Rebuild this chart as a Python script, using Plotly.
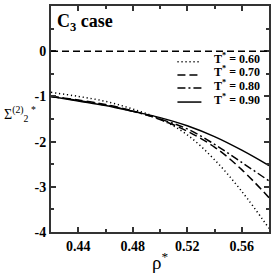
import plotly.graph_objects as go

rho = [0.42, 0.44, 0.46, 0.48, 0.50, 0.52, 0.54, 0.56, 0.58]
s_t060 = [-0.91, -1.00, -1.11, -1.28, -1.50, -1.85, -2.40, -3.10, -3.92]
s_t070 = [-1.00, -1.08, -1.18, -1.32, -1.51, -1.77, -2.12, -2.62, -3.24]
s_t080 = [-1.00, -1.09, -1.19, -1.33, -1.50, -1.72, -2.06, -2.46, -2.87]
s_t090 = [-1.00, -1.10, -1.20, -1.33, -1.47, -1.65, -1.89, -2.19, -2.53]

x_ticks = [0.44, 0.48, 0.52, 0.56]
x_ticklabels = ["0.44", "0.48", "0.52", "0.56"]
y_ticks = [-4, -3, -2, -1, 0, 1]
y_ticklabels = ["-4", "-3", "-2", "-1", "0", "1"]

labels = ["T<sup>*</sup> = 0.60", "T<sup>*</sup> = 0.70", "T<sup>*</sup> = 0.80", "T<sup>*</sup> = 0.90"]
series = [s_t060, s_t070, s_t080, s_t090]
dashes = ["1.2px,2.8px", "8px,4px", "8px,3px,2px,3px", "solid"]

FONT = "Liberation Serif"

fig = go.Figure()
for lab, ys, d in zip(labels, series, dashes):
    fig.add_trace(go.Scatter(x=rho, y=ys, mode="lines", name=lab,
                             line=dict(color="black", width=1.5, dash=d, shape="spline"),
                             showlegend=False))

# zero reference line
fig.add_shape(type="line", xref="paper", x0=0, x1=1, yref="y", y0=0, y1=0,
              line=dict(color="black", width=1.5, dash="7px,4px"))

# manual legend
leg_y = [0.753, 0.695, 0.637, 0.575]
for lab, d, yy in zip(labels, dashes, leg_y):
    fig.add_shape(type="line", xref="paper", yref="paper", x0=0.58, x1=0.69, y0=yy, y1=yy,
                  line=dict(color="black", width=1.5, dash=d))
    fig.add_annotation(xref="paper", yref="paper", x=0.74, y=yy, yshift=3, text="<b>" + lab + "</b>",
                       showarrow=False, xanchor="left", yanchor="middle",
                       font=dict(family=FONT, size=12, color="black"))

fig.add_annotation(xref="paper", yref="paper", x=0.02, y=0.985, xanchor="left", yanchor="top",
                   text="<b>C<sub>3</sub> case</b>", showarrow=False,
                   font=dict(family=FONT, size=18, color="black"))

fig.add_annotation(xref="paper", yref="paper", x=-0.225, y=0.52, xanchor="left", yanchor="middle",
                   text="Σ<sup>(2)</sup><sub>2</sub><sup> *</sup>", showarrow=False,
                   font=dict(family=FONT, size=14, color="black"))

fig.add_annotation(xref="paper", yref="paper", x=0.5, y=-0.065, xanchor="center", yanchor="top",
                   text="ρ<sup>*</sup>", showarrow=False,
                   font=dict(family=FONT, size=19, color="black"))

axis_common = dict(showline=True, mirror="ticks", linecolor="#333", linewidth=2,
                   ticks="inside", tickcolor="#333", tickwidth=1.5, ticklen=5,
                   showgrid=False, zeroline=False,
                   tickfont=dict(family=FONT, size=14, color="black"))

fig.update_xaxes(range=[0.42, 0.58], tickvals=x_ticks,
                 ticktext=["<b>" + t + "</b>" for t in x_ticklabels],
                 minor=dict(ticks="inside", dtick=0.02, tick0=0.42, ticklen=3, tickcolor="#333"),
                 **axis_common)
fig.update_yaxes(range=[-4, 1], tickvals=y_ticks,
                 ticktext=["<b>" + t + "</b>" for t in y_ticklabels],
                 minor=dict(ticks="inside", dtick=0.5, tick0=0, ticklen=3, tickcolor="#333"),
                 **axis_common)

fig.update_layout(width=273, height=273, margin=dict(l=51, r=2, t=6, b=41),
                  plot_bgcolor="white", paper_bgcolor="white", showlegend=False)

fig.write_html("out.html", config={"displayModeBar": False},
               post_script="document.body.style.margin='0';")
